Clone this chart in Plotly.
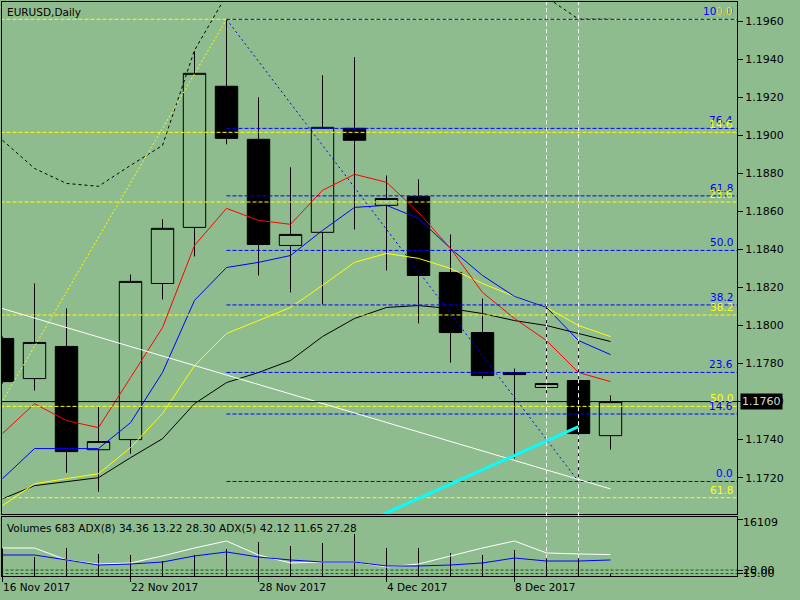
import plotly.graph_objects as go

## colours and font of the MT4 green scheme
BG = '#8fbc8f'
FONT = 'DejaVu Sans'

##############################################################################
## data (bar index 0 = 16 Nov 2017, one bar per trading day)
bars = list(range(20))
date_ticks = [0, 4, 8, 12, 16]
date_labels = ['16 Nov 2017', '22 Nov 2017', '28 Nov 2017', '4 Dec 2017', '8 Dec 2017']

opens = [1.17932, 1.17721, 1.17890, 1.17347, 1.17400, 1.18221, 1.18516, 1.19258, 1.18979, 1.18421,
         1.18490, 1.19037, 1.18632, 1.18679, 1.18279, 1.17963, 1.17753, 1.17674, 1.17711, 1.17421]
highs = [1.17942, 1.18221, 1.18090, 1.17574, 1.18268, 1.18558, 1.19442, 1.19610, 1.19200, 1.18832,
         1.19316, 1.19411, 1.18789, 1.18768, 1.18479, 1.18142, 1.17774, 1.18121, 1.17932, 1.17632]
lows = [1.17695, 1.17658, 1.17226, 1.17126, 1.17326, 1.18137, 1.18363, 1.18953, 1.18263, 1.18174,
        1.18111, 1.18505, 1.18290, 1.18011, 1.17805, 1.17721, 1.17300, 1.17642, 1.17180, 1.17347]
closes = [1.17705, 1.17911, 1.17337, 1.17390, 1.18232, 1.18511, 1.19326, 1.18984, 1.18426, 1.18479,
          1.19042, 1.18974, 1.18668, 1.18263, 1.17963, 1.17737, 1.17742, 1.17695, 1.17432, 1.17600]

## moving averages
ma_red = [1.17432, 1.17589, 1.17500, 1.17463, 1.17726, 1.17989, 1.18421, 1.18616, 1.18553, 1.18532,
          1.18711, 1.18795, 1.18753, 1.18595, 1.18405, 1.18174, 1.18037, 1.17921, 1.17753, 1.17705]
ma_blue = [1.17195, 1.17353, 1.17353, 1.17353, 1.17489, 1.17753, 1.18132, 1.18305, 1.18332, 1.18368,
           1.18500, 1.18621, 1.18632, 1.18563, 1.18405, 1.18263, 1.18153, 1.18095, 1.17921, 1.17847]
ma_yellow = [1.17053, 1.17168, 1.17195, 1.17221, 1.17358, 1.17537, 1.17789, 1.17958, 1.18026, 1.18095,
             1.18211, 1.18332, 1.18379, 1.18353, 1.18300, 1.18221, 1.18153, 1.18095, 1.18000, 1.17942]
ma_black = [1.17089, 1.17158, 1.17179, 1.17200, 1.17305, 1.17405, 1.17589, 1.17700, 1.17753, 1.17816,
            1.17942, 1.18037, 1.18095, 1.18105, 1.18089, 1.18063, 1.18026, 1.18000, 1.17958, 1.17916]
## upper band (dashed black), mostly above the visible window in the middle
band_upper = [1.18974, 1.18826, 1.18747, 1.18732, 1.18842, 1.18947, 1.19447, 1.19737, 1.19900, 1.20000,
              1.20050, 1.20080, 1.20080, 1.20050, 1.20000, 1.19920, 1.19820, 1.19726, 1.19611, 1.19611]

## fibonacci objects
blue_fib_bars = [7, 18]
blue_fib_prices = [1.1961, 1.1718]
blue_fib_levels = [0.0, 14.6, 23.6, 38.2, 50.0, 61.8, 76.4, 100.0]
yellow_fib_bars = [-7.2, 7]
yellow_fib_prices = [1.1554, 1.1961]
yellow_fib_levels = [0.0, 14.6, 23.6, 38.2, 50.0, 61.8]

## trend lines
white_line_bars = [-1, 19]
white_line_prices = [1.18139, 1.17141]
cyan_line_bars = [11, 18]
cyan_line_prices = [1.16940, 1.17468]
vline_bars = [17, 18]
bid_price = 1.1760

price_ticks = [1.1720, 1.1740, 1.1760, 1.1780, 1.1800, 1.1820, 1.1840,
               1.1860, 1.1880, 1.1900, 1.1920, 1.1940, 1.1960]

## lower window: tick volumes and two ADX lines
volumes = [8000, 5466, 8054, 6329, 6041, 4315, 6041, 7767, 9781, 8630,
           9493, 12082, 8054, 8054, 6616, 6041, 7479, 5178, 5466, 683]
adx5 = [51.5, 51.5, 34.4, 28.6, 30.1, 40.1, 51.5, 61.5, 41.5, 30.1,
        31.5, 31.5, 24.4, 28.6, 40.1, 51.5, 61.5, 44.4, 43.0, 42.1]
adx8 = [41.5, 41.5, 34.4, 27.2, 28.6, 31.5, 40.1, 45.8, 38.6, 34.4,
        31.5, 31.5, 25.8, 25.8, 27.2, 30.1, 37.2, 32.9, 32.9, 34.4]
adx_levels = [20, 15]
vol_max = 16109
info_text = 'Volumes 683 ADX(8) 34.36 13.22 28.30 ADX(5) 42.12 11.65 27.28'

x_range = [-0.016, 22.953]

##############################################################################
fig = go.Figure()

## candles
fig.add_trace(go.Candlestick(
    x=bars, open=opens, high=highs, low=lows, close=closes,
    increasing=dict(line=dict(color='black', width=1), fillcolor=BG),
    decreasing=dict(line=dict(color='black', width=1), fillcolor='black'),
    whiskerwidth=0, hoverinfo='skip', xaxis='x', yaxis='y'))

## moving averages
for vals, col in [(ma_black, 'black'), (ma_yellow, '#ffff00'), (ma_blue, '#0000ff'), (ma_red, '#ff0000')]:
    fig.add_trace(go.Scatter(x=bars, y=vals, mode='lines', line=dict(color=col, width=1),
                             xaxis='x', yaxis='y'))
fig.add_trace(go.Scatter(x=bars, y=band_upper, mode='lines',
                         line=dict(color='black', width=1, dash='3px,3px'), xaxis='x', yaxis='y'))

## fib levels
blue_lo, blue_hi = min(blue_fib_prices), max(blue_fib_prices)
blue_lv = [blue_lo + r / 100 * (blue_hi - blue_lo) for r in blue_fib_levels]
ylw_lo, ylw_hi = min(yellow_fib_prices), max(yellow_fib_prices)
ylw_lv = [ylw_hi - r / 100 * (ylw_hi - ylw_lo) for r in yellow_fib_levels]

fx, fy = [], []
for p in ylw_lv:
    fx += [-1, 24, None]
    fy += [p, p, None]
fig.add_trace(go.Scatter(x=fx, y=fy, mode='lines', line=dict(color='#ffff00', width=1, dash='4px,2px'),
                         xaxis='x', yaxis='y'))
fx, fy = [], []
for p in blue_lv:
    fx += [blue_fib_bars[0], 24, None]
    fy += [p, p, None]
fig.add_trace(go.Scatter(x=fx, y=fy, mode='lines', line=dict(color='#0000ff', width=1, dash='4px,2px'),
                         xaxis='x', yaxis='y'))

## fib diagonals
fig.add_trace(go.Scatter(x=yellow_fib_bars, y=yellow_fib_prices, mode='lines',
                         line=dict(color='#ffff00', width=1, dash='2px,2px'), xaxis='x', yaxis='y'))
fig.add_trace(go.Scatter(x=blue_fib_bars, y=blue_fib_prices, mode='lines',
                         line=dict(color='#0000ff', width=1, dash='2px,3px'), xaxis='x', yaxis='y'))

## trend lines
fig.add_trace(go.Scatter(x=white_line_bars, y=white_line_prices, mode='lines',
                         line=dict(color='white', width=1), xaxis='x', yaxis='y'))
fig.add_trace(go.Scatter(x=cyan_line_bars, y=cyan_line_prices, mode='lines',
                         line=dict(color='#00ffff', width=3), xaxis='x', yaxis='y'))
fig.add_trace(go.Scatter(x=[-1, 24], y=[bid_price, bid_price], mode='lines',
                         line=dict(color='black', width=1), xaxis='x', yaxis='y'))

## lower window
vx, vy = [], []
for b, v in zip(bars, volumes):
    vx += [b, b, None]
    vy += [0, v, None]
fig.add_trace(go.Scatter(x=vx, y=vy, mode='lines', line=dict(color='black', width=1),
                         xaxis='x2', yaxis='y2'))
lx, ly = [], []
for lv in adx_levels:
    lx += [-1, 24, None]
    ly += [lv, lv, None]
fig.add_trace(go.Scatter(x=lx, y=ly, mode='lines', line=dict(color='#006400', width=1, dash='3px,2px'),
                         xaxis='x2', yaxis='y3'))
fig.add_trace(go.Scatter(x=bars, y=adx5, mode='lines', line=dict(color='white', width=1),
                         xaxis='x2', yaxis='y3'))
fig.add_trace(go.Scatter(x=bars, y=adx8, mode='lines', line=dict(color='#0000ff', width=1),
                         xaxis='x2', yaxis='y3'))

## vertical dashed white lines through both windows
shapes = []
for b in vline_bars:
    shapes.append(dict(type='line', xref='x', x0=b, x1=b, yref='paper', y0=0.031, y1=1,
                       line=dict(color='white', width=1, dash='4px,3px'), layer='above'))

## texts
ann = []
ann.append(dict(text='EURUSD,Daily', xref='paper', yref='paper', x=0.0068, y=0.9965,
                xanchor='left', yanchor='top', showarrow=False, xshift=-2,
                font=dict(family=FONT, size=10.5, color='black')))
ann.append(dict(text=info_text, xref='paper', yref='paper', x=0.0068, y=0.0976,
                xanchor='left', yanchor='top', showarrow=False, xshift=-2,
                font=dict(family=FONT, size=10.5, color='black')))
for r, p in zip(blue_fib_levels, blue_lv):
    ann.append(dict(text=f'{r:.1f}', xref='paper', yref='y', x=0.9975, y=p,
                    xanchor='right', yanchor='bottom', showarrow=False,
                    font=dict(family=FONT, size=10.5, color='#0000ff')))
for r, p in zip(yellow_fib_levels, ylw_lv):
    ann.append(dict(text=f'{r:.1f}', xref='paper', yref='y', x=0.9975, y=p,
                    xanchor='right', yanchor='bottom', showarrow=False,
                    font=dict(family=FONT, size=10.5, color='#ffff00')))
ann.append(dict(text=f'{bid_price:.4f}', xref='paper', yref='y', x=1, y=bid_price,
                xanchor='left', yanchor='middle', xshift=3, showarrow=False,
                bgcolor='black', borderpad=1,
                font=dict(family=FONT, size=11, color='#d0dcd0')))
for t, lab in zip(date_ticks, date_labels):
    ann.append(dict(text=lab, xref='x2', yref='paper', x=t, y=0, xanchor='left', yanchor='top',
                    xshift=-2, yshift=-3, showarrow=False,
                    font=dict(family=FONT, size=10.5, color='black')))
ann.append(dict(text=str(vol_max), xref='paper', yref='y2', x=1, y=vol_max, xanchor='left',
                yanchor='middle', xshift=4, yshift=-3, showarrow=False,
                font=dict(family=FONT, size=11, color='black')))
for lv in adx_levels:
    ann.append(dict(text=f'{lv:.2f}', xref='paper', yref='y3', x=1, y=lv, xanchor='left',
                    yanchor='middle', xshift=4, showarrow=False,
                    font=dict(family=FONT, size=11, color='black')))

axis_common = dict(showgrid=False, zeroline=False, showline=True, mirror=True,
                   linecolor='black', linewidth=1, fixedrange=True)

fig.update_layout(
    width=800, height=600,
    margin=dict(l=2, r=63, t=2, b=24),
    paper_bgcolor=BG, plot_bgcolor=BG,
    showlegend=False,
    boxgap=0.3, boxgroupgap=0,
    xaxis=dict(domain=[0, 1], range=x_range, anchor='y', showticklabels=False, ticks='',
               rangeslider=dict(visible=False), **axis_common),
    yaxis=dict(domain=[0.108, 1], range=[1.17009, 1.19701], anchor='x', side='right',
               ticks='outside', ticklen=5, tickcolor='black',
               tickvals=price_ticks, ticktext=[f'{p:.4f}' for p in price_ticks],
               tickfont=dict(family=FONT, size=11, color='black'), **axis_common),
    xaxis2=dict(domain=[0, 1], range=x_range, anchor='y2', showticklabels=False,
                ticks='outside', ticklen=5, tickcolor='black', tickvals=date_ticks, **axis_common),
    yaxis2=dict(domain=[0, 0.1028], range=[0, 16972], anchor='x2', side='right',
                showticklabels=False, ticks='outside', ticklen=5, tickcolor='black',
                tickvals=[vol_max], **axis_common),
    yaxis3=dict(overlaying='y2', anchor='x2', side='right', range=[11.5, 95.8],
                showgrid=False, zeroline=False, showline=False, showticklabels=False,
                ticks='outside', ticklen=5, tickcolor='black', tickvals=adx_levels, fixedrange=True),
    shapes=shapes,
    annotations=ann,
)

## the page body has a default 8px margin; drop it so the figure sits at the window corner
fig.write_html("out.html", config={'displayModeBar': False},
               post_script="document.body.style.margin='0px';")
